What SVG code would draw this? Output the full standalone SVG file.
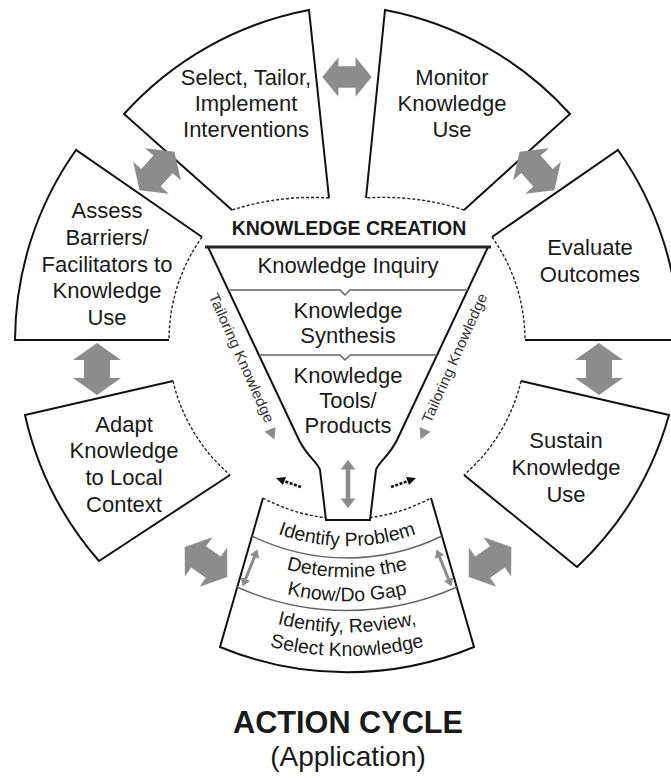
<svg xmlns="http://www.w3.org/2000/svg" xmlns:xlink="http://www.w3.org/1999/xlink" width="671" height="778" viewBox="0 0 671 778">
<style>
.fill{fill:#fff;stroke:none}
.solid{fill:none;stroke:#111;stroke-width:2;stroke-linejoin:miter}
.dash{fill:none;stroke:#222;stroke-width:1.4;stroke-dasharray:3 2}
.base{fill:none;stroke:#222;stroke-width:3}
.sep{fill:none;stroke:#666;stroke-width:1.5}
.t{font-family:"Liberation Sans",Arial,sans-serif;font-size:22px;fill:#1a1a1a;text-anchor:middle}
.ct{font-family:"Liberation Sans",Arial,sans-serif;font-size:19.5px;fill:#1a1a1a;text-anchor:middle}
.b{font-weight:bold}
.small{font-family:"Liberation Sans",Arial,sans-serif;font-size:14.5px;fill:#333;text-anchor:middle}
.garrow{fill:#8c8c8c}
</style>
<defs>
<path id="dbl" d="M-26,0 L-9,-24 L-9,-13 L9,-13 L9,-24 L26,0 L9,24 L9,13 L-9,13 L-9,24 Z"/>
<path id="thin" d="M-20,0 L-12,-5 L-12,-1.5 L12,-1.5 L12,-5 L20,0 L12,5 L12,1.5 L-12,1.5 L-12,5 Z"/>
<path id="tp1" d="M202,486 A205 205 0 0 0 492,486"/>
<path id="tp2" d="M180,508 A236 236 0 0 0 514,508"/>
<path id="tp3" d="M163,525 A260 260 0 0 0 531,525"/>
<path id="tp4" d="M141,547 A291 291 0 0 0 553,547"/>
<path id="tp5" d="M124,564 A316 316 0 0 0 570,564"/>
</defs>

<g id="node-select">
<path class="fill" d="M232,210 L124,114 A332 332 0 0 1 309,10 L329,198 A260 260 0 0 0 232,210 Z"/>
<path class="solid" d="M232,210 L124,114 A332 332 0 0 1 309,10 L329,198"/>
<path class="dash" d="M329,198 A260 260 0 0 0 232,210"/>
<text class="t" x="246" y="85">Select, Tailor,</text>
<text class="t" x="246" y="111">Implement</text>
<text class="t" x="246" y="137">Interventions</text>
</g>

<g id="node-monitor">
<path class="fill" d="M366,198 L385,10 A332 332 0 0 1 570,114 L464,210 A260 260 0 0 0 366,198 Z"/>
<path class="solid" d="M366,198 L385,10 A332 332 0 0 1 570,114 L464,210"/>
<path class="dash" d="M464,210 A260 260 0 0 0 366,198"/>
<text class="t" x="452" y="85">Monitor</text>
<text class="t" x="452" y="111">Knowledge</text>
<text class="t" x="452" y="137">Use</text>
</g>

<g id="node-assess">
<path class="fill" d="M76,150 L202,237 A178 178 0 0 0 169,340 L15,340 A332 332 0 0 1 76,150 Z"/>
<path class="solid" d="M169,340 L15,340 A332 332 0 0 1 76,150 L202,237"/>
<path class="dash" d="M202,237 A178 178 0 0 0 169,340"/>
<text class="t" x="107" y="218">Assess</text>
<text class="t" x="107" y="245">Barriers/</text>
<text class="t" x="107" y="272">Facilitators to</text>
<text class="t" x="107" y="298">Knowledge</text>
<text class="t" x="107" y="325">Use</text>
</g>

<g id="node-evaluate">
<path class="fill" d="M618,150 L492,237 A178 178 0 0 1 525,340 L679,340 A332 332 0 0 0 618,150 Z"/>
<path class="solid" d="M525,340 L679,340 A332 332 0 0 0 618,150 L492,237"/>
<path class="dash" d="M492,237 A178 178 0 0 1 525,340"/>
<text class="t" x="590" y="255">Evaluate</text>
<text class="t" x="590" y="282">Outcomes</text>
</g>

<g id="node-adapt">
<path class="fill" d="M25,415 L173,381 A178 178 0 0 0 230,475 L99,561 A332 332 0 0 1 25,415 Z"/>
<path class="solid" d="M230,475 L99,561 A332 332 0 0 1 25,415 L173,381"/>
<path class="dash" d="M173,381 A178 178 0 0 0 230,475"/>
<text class="t" x="124" y="432">Adapt</text>
<text class="t" x="124" y="458">Knowledge</text>
<text class="t" x="124" y="485">to Local</text>
<text class="t" x="124" y="512">Context</text>
</g>

<g id="node-sustain">
<path class="fill" d="M669,415 L521,381 A178 178 0 0 1 464,475 L577,567 A332 332 0 0 0 669,415 Z"/>
<path class="solid" d="M464,475 L577,567 A332 332 0 0 0 669,415 L521,381"/>
<path class="dash" d="M521,381 A178 178 0 0 1 464,475"/>
<text class="t" x="566" y="448">Sustain</text>
<text class="t" x="566" y="475">Knowledge</text>
<text class="t" x="566" y="502">Use</text>
</g>

<g id="node-problem">
<path class="fill" d="M263,498 A178 178 0 0 0 431,498 L474,647 A332 332 0 0 1 220,647 Z"/>
<path class="solid" d="M263,498 L220,647 A332 332 0 0 0 474,647 L431,498"/>
<path class="dash" d="M263,498 A178 178 0 0 0 431,498"/>
<path class="sep" d="M252,536 A217 217 0 0 0 442,536"/>
<path class="sep" d="M237,587 A269 269 0 0 0 457,587"/>
<text class="ct"><textPath href="#tp1" xlink:href="#tp1" startOffset="50%">Identify Problem</textPath></text>
<text class="ct"><textPath href="#tp2" xlink:href="#tp2" startOffset="50%">Determine the</textPath></text>
<text class="ct"><textPath href="#tp3" xlink:href="#tp3" startOffset="50%">Know/Do Gap</textPath></text>
<text class="ct"><textPath href="#tp4" xlink:href="#tp4" startOffset="50%">Identify, Review,</textPath></text>
<text class="ct"><textPath href="#tp5" xlink:href="#tp5" startOffset="50%">Select Knowledge</textPath></text>
</g>

<g id="node-knowledge-creation">
<text class="t b" x="349" y="235" style="font-size:19.5px">KNOWLEDGE CREATION</text>
<path class="fill" d="M208,247 L488,247 L397,440 C388,458 378,462 376,470 L370,520 L326,520 L320,470 C318,462 308,458 299,440 Z"/>
<path class="solid" d="M208,247 L299,440 C308,458 318,462 320,470 L326,520 L370,520 L376,470 C378,462 388,458 397,440 L488,247"/>
<line class="base" x1="205" y1="247" x2="491" y2="247"/>
<path class="sep" d="M228,290 L340,290 L345,295 L350,290 L468,290"/>
<path class="sep" d="M259,355 L340,355 L345,360 L350,355 L437,355"/>
<text class="t" x="348" y="273">Knowledge Inquiry</text>
<text class="t" x="348" y="318">Knowledge</text>
<text class="t" x="348" y="343">Synthesis</text>
<text class="t" x="348" y="383">Knowledge</text>
<text class="t" x="348" y="408">Tools/</text>
<text class="t" x="348" y="433">Products</text>
</g>

<g id="connectors">
<use href="#dbl" xlink:href="#dbl" class="garrow" transform="translate(347,77) scale(0.95,0.82)"/>
<use href="#dbl" xlink:href="#dbl" class="garrow" transform="translate(157,171) rotate(-48)"/>
<use href="#dbl" xlink:href="#dbl" class="garrow" transform="translate(537,171) rotate(48)"/>
<use href="#dbl" xlink:href="#dbl" class="garrow" transform="translate(97,369) rotate(90)"/>
<use href="#dbl" xlink:href="#dbl" class="garrow" transform="translate(599,369) rotate(90)"/>
<use href="#dbl" xlink:href="#dbl" class="garrow" transform="translate(206,562) rotate(35)"/>
<use href="#dbl" xlink:href="#dbl" class="garrow" transform="translate(490,562) rotate(-35)"/>
<use href="#thin" xlink:href="#thin" class="garrow" transform="translate(348,484) rotate(90) scale(1.2,1.5)"/>
<use href="#thin" xlink:href="#thin" class="garrow" transform="translate(250,568) rotate(112)"/>
<use href="#thin" xlink:href="#thin" class="garrow" transform="translate(444,568) rotate(68)"/>
<text class="small" transform="translate(237,360) rotate(66)" textLength="140" lengthAdjust="spacingAndGlyphs">Tailoring Knowledge</text>
<text class="small" transform="translate(459,360) rotate(-66)" textLength="140" lengthAdjust="spacingAndGlyphs">Tailoring Knowledge</text>
<path class="garrow" transform="translate(272,434) rotate(66)" d="M6,0 L-5,-6 L-5,6 Z"/>
<path class="garrow" transform="translate(423,434) rotate(114)" d="M6,0 L-5,-6 L-5,6 Z"/>
<path d="M301,487 L284,481" fill="none" stroke="#111" stroke-width="2.5" stroke-dasharray="3 1.5"/>
<path d="M276,478 L286,477 L283,485 Z" fill="#111"/>
<path d="M391,487 L408,481" fill="none" stroke="#111" stroke-width="2.5" stroke-dasharray="3 1.5"/>
<path d="M416,478 L406,477 L409,485 Z" fill="#111"/>
</g>

<g id="title">
<text class="t b" x="348" y="733" style="font-size:31px" textLength="230" lengthAdjust="spacingAndGlyphs">ACTION CYCLE</text>
<text class="t" x="348" y="766" style="font-size:28px">(Application)</text>
</g>
</svg>
